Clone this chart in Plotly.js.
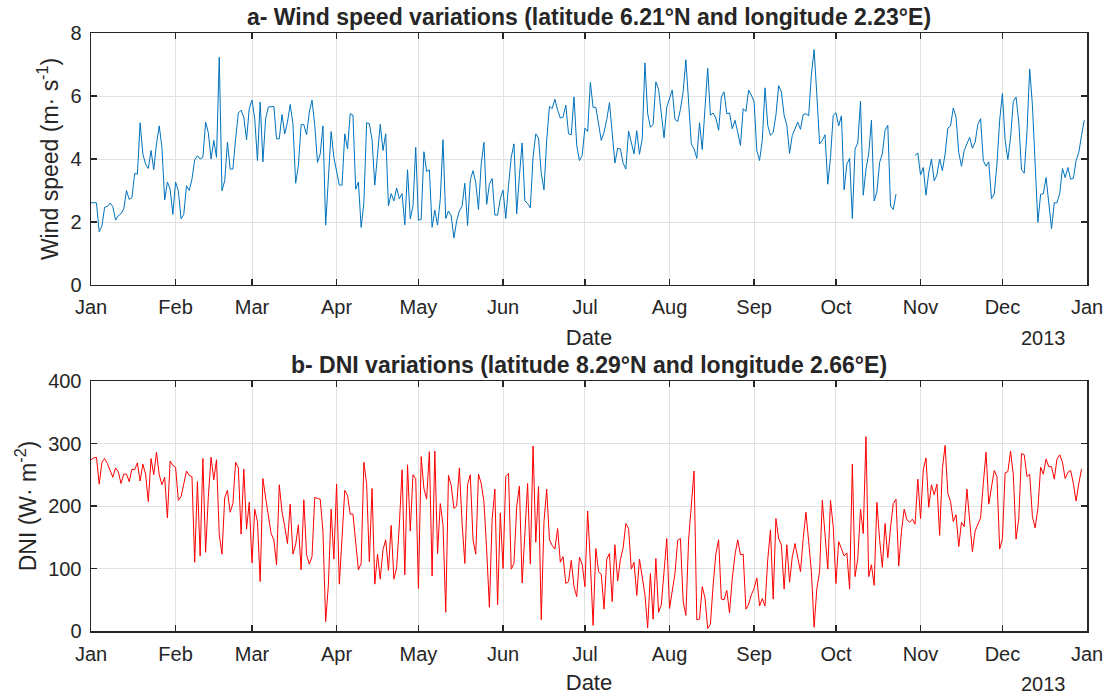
<!DOCTYPE html>
<html>
<head>
<meta charset="utf-8">
<script src="https://cdn.plot.ly/plotly-3.0.1.min.js"></script>
<style>html,body{margin:0;padding:0;background:#fff;}#chart{width:1107px;height:695px;}</style>
</head>
<body>
<div id="chart"></div>
<script>
// ---- data (daily values, 2013) ----
const startDate = '2013-01-01';
const monthTicks = ['2013-01-01','2013-02-01','2013-03-01','2013-04-01','2013-05-01','2013-06-01','2013-07-01','2013-08-01','2013-09-01','2013-10-01','2013-11-01','2013-12-01','2014-01-01'];
const monthLabels = ['Jan','Feb','Mar','Apr','May','Jun','Jul','Aug','Sep','Oct','Nov','Dec','Jan'];

const windJanMar = [2.61,2.61,2.61,1.69,1.87,2.47,2.49,2.6,2.49,2.06,2.2,2.26,2.42,3.0,2.72,2.77,3.54,3.52,5.15,4.16,3.84,3.7,4.27,3.66,4.48,5.05,4.37,2.7,3.27,3.04,2.24,
3.27,2.99,2.1,2.24,3.15,3.0,3.36,3.97,4.1,4.0,4.05,5.17,4.83,4.0,4.59,4.05,7.23,2.99,3.31,4.53,3.68,3.68,4.64,5.46,5.55,5.33,4.61,5.6,
5.87,5.28,3.95,5.81,3.91,5.28,5.65,5.65,5.67,4.64,4.64,5.41,4.8,5.17,5.73,5.12,3.23,3.79,5.09,5.09,4.77,5.49,5.87,5.07,3.89,4.16,5.05,1.9,3.57,4.87,4.05];
const windAprJun = [3.6,3.17,3.17,4.8,4.32,5.44,5.39,3.04,3.27,1.83,2.61,5.15,5.12,4.61,3.17,4.23,5.1,4.27,4.8,2.51,2.9,2.67,3.08,2.74,2.9,1.91,3.66,2.1,2.51,4.37,
2.06,2.08,4.23,3.6,3.66,1.83,2.38,1.9,2.72,4.61,2.11,2.35,2.19,1.49,2.03,2.35,2.51,3.23,1.89,3.34,3.63,3.25,2.4,3.84,4.53,2.56,3.2,3.38,2.22,2.22,2.74,
3.01,2.11,3.15,4.05,4.48,2.26,3.47,4.51,2.67,2.59,2.45,4.05,4.8,4.66,3.54,3.02,4.59,5.67,5.6,5.9,5.55,5.3,5.33,5.71,4.8,4.77,5.97,4.43,3.95,4.11];
const windJulSep = [4.98,4.87,6.43,5.64,5.64,5.07,4.59,4.85,5.25,5.79,4.85,3.87,4.34,4.32,3.87,3.68,4.89,4.53,4.16,4.9,4.15,4.64,7.05,5.44,5.01,5.09,6.45,6.21,5.39,4.67,5.65,
5.94,6.19,5.26,5.19,5.57,6.13,7.15,5.65,4.48,4.32,4.02,5.15,4.3,5.6,6.88,5.39,5.46,5.3,4.91,5.97,6.13,5.44,5.46,4.96,5.23,4.85,4.43,5.6,5.51,6.19,6.03,
5.81,4.27,3.95,4.59,6.26,5.07,4.75,4.85,5.39,6.33,6.13,5.39,5.07,4.18,4.75,4.96,5.17,4.94,5.41,5.44,5.37,6.67,7.47,6.03,4.48,4.59,4.77,3.2,4.05,5.39];
const windOctDec = [5.47,5.05,5.37,3.02,3.84,4.02,2.11,4.32,4.51,5.83,2.85,3.68,4.16,5.23,2.67,2.95,3.89,4.16,4.91,5.07,2.51,2.4,2.88,null,null,null,null,null,null,
4.11,4.19,3.49,3.73,2.85,3.57,4.0,3.31,3.49,4.0,3.63,4.16,4.98,5.05,5.62,5.33,4.21,3.77,4.27,4.48,4.69,4.34,4.53,5.1,5.28,3.95,3.77,3.91,2.74,2.88,3.84,5.23,
6.08,4.59,3.98,4.69,5.83,5.97,5.17,3.66,3.55,4.85,6.86,5.71,3.89,1.99,2.88,2.9,3.41,2.61,1.79,2.61,2.61,2.9,3.7,3.41,3.73,3.36,3.38,3.95,4.21,4.75,5.23];

const dniJanMar = [274,277,278,235,270,276,268,256,246,261,255,236,251,251,239,259,258,269,240,267,251,207,276,250,286,250,234,246,181,272,265,
262,209,215,234,256,249,247,110,239,120,276,126,215,278,242,274,154,123,213,225,190,204,270,261,155,259,163,206,
109,195,175,79,244,213,186,156,146,106,234,191,167,140,203,123,138,170,98,210,122,107,119,214,212,211,159,15,74,195,115];
const dniAprJun = [235,75,148,225,217,187,187,143,98,108,270,236,111,228,75,123,83,130,146,97,169,83,101,170,258,90,266,160,250,244,
68,279,228,211,287,88,288,124,204,170,30,249,233,196,200,261,172,108,234,250,146,123,251,236,207,130,38,178,227,42,189,
100,247,252,99,108,199,232,77,156,236,107,296,142,231,18,175,227,146,137,131,164,110,119,76,79,113,71,55,118,107];
const dniJulSep = [71,192,110,9,132,95,91,35,115,124,47,138,80,114,133,172,164,99,110,57,115,84,58,5,92,19,116,30,42,95,148,
36,63,92,145,148,48,25,146,196,256,18,19,71,53,4,11,74,124,146,51,50,65,29,84,122,146,122,123,35,43,
58,68,85,40,52,40,114,162,51,180,148,138,67,138,78,119,140,119,95,148,190,143,95,6,68,95,209,154,99,209,167];
const dniOctDec = [76,143,132,120,125,67,267,87,116,195,156,311,87,106,73,206,146,102,172,117,165,204,211,104,159,195,178,174,179,171,243,
180,258,277,198,234,218,235,153,260,297,220,207,175,186,135,174,167,227,175,127,160,172,181,236,286,203,232,257,247,
131,148,253,255,288,250,147,180,284,282,247,251,183,165,196,262,251,275,263,263,243,275,282,270,244,254,257,236,208,236,259];

const windSpeed = windJanMar.concat(windAprJun, windJulSep, windOctDec);
const dni = dniJanMar.concat(dniAprJun, dniJulSep, dniOctDec);

// dates for each daily value
const t0 = Date.parse(startDate + 'T00:00:00Z');
const dates = windSpeed.map((_, i) => new Date(t0 + i * 86400000).toISOString().slice(0, 10));

const FONT = '"Liberation Sans", Arial, Helvetica, sans-serif';
const TXT = '#262626';
const AX = '#262626';

function xAxis(anchor) {
  return {
    type: 'date', range: ['2013-01-01', '2014-01-01'], anchor: anchor,
    tickvals: monthTicks, ticktext: monthLabels,
    showgrid: true, gridcolor: '#e1e1e1', gridwidth: 1,
    showline: true, linecolor: AX, linewidth: 1.5, mirror: 'ticks',
    ticks: 'inside', ticklen: 6, tickwidth: 1.5, tickcolor: AX,
    ticklabelstandoff: 4,
    tickfont: {family: FONT, size: 20, color: TXT},
    title: {text: 'Date', font: {family: FONT, size: 22, color: TXT}, standoff: 12},
    zeroline: false, automargin: false
  };
}
function yAxis(anchor, domain, range, dtick, titleText) {
  return {
    domain: domain, range: range, dtick: dtick, anchor: anchor,
    showgrid: true, gridcolor: '#e1e1e1', gridwidth: 1,
    showline: true, linecolor: AX, linewidth: 1.5, mirror: 'ticks',
    ticks: 'inside', ticklen: 6, tickwidth: 1.5, tickcolor: AX,
    ticklabelstandoff: 4,
    tickfont: {family: FONT, size: 20, color: TXT},
    title: {text: titleText, font: {family: FONT, size: 23, color: TXT}, standoff: 5},
    zeroline: false, automargin: false
  };
}

const traces = [
  {x: dates, y: windSpeed, type: 'scatter', mode: 'lines', line: {color: '#0072BD', width: 1}, xaxis: 'x', yaxis: 'y', connectgaps: false, hoverinfo: 'x+y'},
  {x: dates, y: dni, type: 'scatter', mode: 'lines', line: {color: '#FF0000', width: 1}, xaxis: 'x2', yaxis: 'y2', hoverinfo: 'x+y'}
];

const layout = {
  width: 1107, height: 695,
  margin: {l: 91, r: 20, t: 33, b: 64},
  paper_bgcolor: '#ffffff', plot_bgcolor: '#ffffff',
  showlegend: false,
  font: {family: FONT, color: TXT},
  xaxis: xAxis('y'),
  yaxis: yAxis('x', [0.5786, 1], [0, 8], 2, 'Wind speed (m· s<sup>-1</sup>)'),
  xaxis2: xAxis('y2'),
  yaxis2: yAxis('x2', [0, 0.418], [0, 400], 100, 'DNI (W· m<sup>-2</sup>)'),
  annotations: [
    {text: '<b>a- Wind speed variations (latitude 6.21°N and longitude 2.23°E)</b>', xref: 'paper', yref: 'paper', x: 0.5, y: 1, yanchor: 'bottom', yshift: 1, showarrow: false, font: {family: FONT, size: 23, color: TXT}},
    {text: '<b>b- DNI variations (latitude 8.29°N and longitude 2.66°E)</b>', xref: 'paper', yref: 'paper', x: 0.5, y: 0.418, yanchor: 'bottom', yshift: 1, showarrow: false, font: {family: FONT, size: 23, color: TXT}},
    {text: '2013', xref: 'paper', yref: 'paper', x: 0.981, y: 0.5786, xanchor: 'right', yanchor: 'top', yshift: -40, showarrow: false, font: {family: FONT, size: 20, color: TXT}},
    {text: '2013', xref: 'paper', yref: 'paper', x: 0.981, y: 0, xanchor: 'right', yanchor: 'top', yshift: -40, showarrow: false, font: {family: FONT, size: 20, color: TXT}}
  ]
};

Plotly.newPlot('chart', traces, layout, {staticPlot: true, displayModeBar: false});
</script>
</body>
</html>
